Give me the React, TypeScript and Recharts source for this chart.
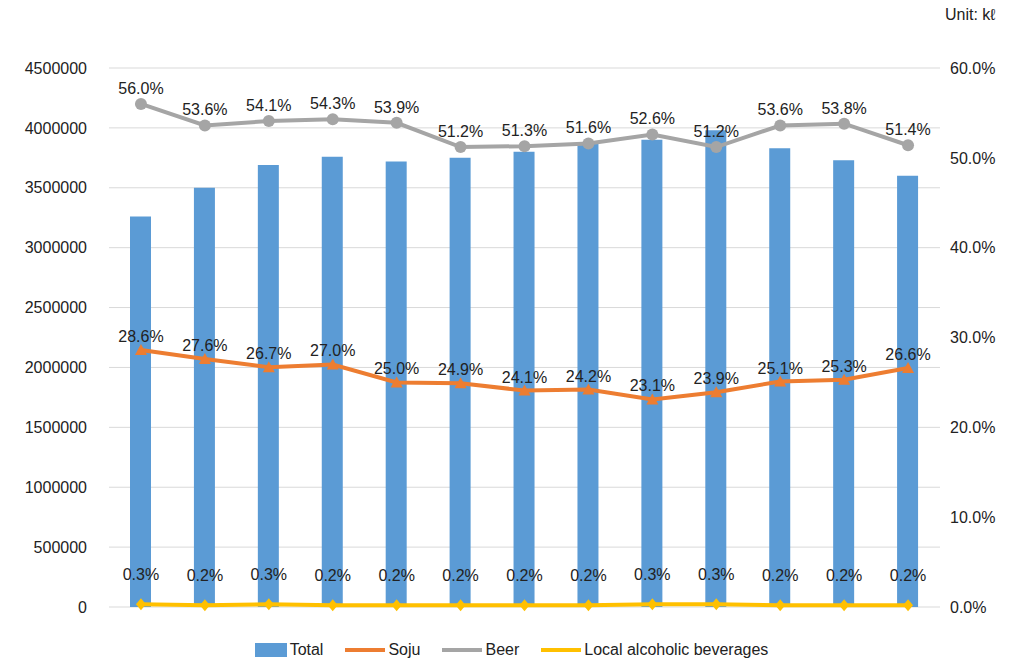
import React from 'react';
import { ComposedChart, Bar, Line, XAxis, YAxis, CartesianGrid, Legend, LabelList } from 'recharts';

const years = ['1', '2', '3', '4', '5', '6', '7', '8', '9', '10', '11', '12', '13'];
const total = [3260000, 3500000, 3690000, 3760000, 3720000, 3750000, 3800000, 3870000, 3900000, 3980000, 3830000, 3730000, 3600000];
const soju = [28.6, 27.6, 26.7, 27.0, 25.0, 24.9, 24.1, 24.2, 23.1, 23.9, 25.1, 25.3, 26.6];
const beer = [56.0, 53.6, 54.1, 54.3, 53.9, 51.2, 51.3, 51.6, 52.6, 51.2, 53.6, 53.8, 51.4];
const local = [0.3, 0.2, 0.3, 0.2, 0.2, 0.2, 0.2, 0.2, 0.3, 0.3, 0.2, 0.2, 0.2];
const leftTicks = [0, 500000, 1000000, 1500000, 2000000, 2500000, 3000000, 3500000, 4000000, 4500000];
const rightTicks = [0, 10, 20, 30, 40, 50, 60];

const data = years.map((y, i) => ({ year: y, total: total[i], soju: soju[i], beer: beer[i], local: local[i] }));

const font = '"Liberation Sans", Arial, sans-serif';
const pct = (v: any) => `${Number(v).toFixed(1)}%`;

const Circle = (p: any) => <circle key={p.index} cx={p.cx} cy={p.cy} r={6} fill="#a5a5a5" />;
const Tri = (p: any) => (
  <path key={p.index} d={`M${p.cx},${p.cy - 6} L${p.cx + 6},${p.cy + 5} L${p.cx - 6},${p.cy + 5} Z`} fill="#ed7d31" />
);
const Diamond = (p: any) => (
  <path key={p.index} d={`M${p.cx},${p.cy - 6} L${p.cx + 5},${p.cy} L${p.cx},${p.cy + 6} L${p.cx - 5},${p.cy} Z`} fill="#ffc000" />
);

const legendItems = [
  { name: 'Total', color: '#5b9bd5', bar: true },
  { name: 'Soju', color: '#ed7d31', bar: false },
  { name: 'Beer', color: '#a5a5a5', bar: false },
  { name: 'Local alcoholic beverages', color: '#ffc000', bar: false },
];

const renderLegend = () => (
  <div style={{ display: 'flex', justifyContent: 'center', gap: 22, fontSize: 16, color: '#222', fontFamily: font }}>
    {legendItems.map((it) => (
      <div key={it.name} style={{ display: 'flex', alignItems: 'center', gap: 3 }}>
        {it.bar ? (
          <span style={{ width: 32, height: 14, background: it.color, display: 'inline-block' }} />
        ) : (
          <span style={{ width: 40, height: 4, background: it.color, display: 'inline-block' }} />
        )}
        <span>{it.name}</span>
      </div>
    ))}
  </div>
);

const App: React.FC = () => (
  <div style={{ position: 'absolute', left: 0, top: 0, width: 1023, height: 663, fontFamily: font, background: '#fff' }}>
    <div style={{ position: 'absolute', left: 945, top: 6, fontSize: 16, color: '#222', zIndex: 2 }}>Unit: kℓ</div>
    <ComposedChart width={1023} height={663} data={data} margin={{ top: 68, right: 0, left: 0, bottom: 38 }} barCategoryGap="32%">
      <CartesianGrid vertical={false} stroke="#d9d9d9" yAxisId="left" />
      <XAxis dataKey="year" hide />
      <YAxis yAxisId="left" domain={[0, 4500000]} ticks={leftTicks} width={109} axisLine={false} tickLine={false}
        tickMargin={16} tick={{ fontSize: 16, fill: '#222' }} interval={0} />
      <YAxis yAxisId="right" orientation="right" domain={[0, 60]} ticks={rightTicks} width={83} axisLine={false} tickLine={false}
        tickMargin={4} tickFormatter={pct} tick={{ fontSize: 16, fill: '#222' }} interval={0} />
      <Legend verticalAlign="bottom" content={renderLegend} wrapperStyle={{ bottom: 4 }} />
      <Bar yAxisId="left" dataKey="total" name="Total" fill="#5b9bd5" barSize={21} isAnimationActive={false} />
      <Line yAxisId="right" dataKey="soju" name="Soju" stroke="#ed7d31" strokeWidth={4} dot={Tri} isAnimationActive={false}>
        <LabelList dataKey="soju" position="top" offset={8} formatter={pct} style={{ fontSize: 16, fill: '#222' }} />
      </Line>
      <Line yAxisId="right" dataKey="beer" name="Beer" stroke="#a5a5a5" strokeWidth={4} dot={Circle} isAnimationActive={false}>
        <LabelList dataKey="beer" position="top" offset={10} formatter={pct} style={{ fontSize: 16, fill: '#222' }} />
      </Line>
      <Line yAxisId="right" dataKey="local" name="Local alcoholic beverages" stroke="#ffc000" strokeWidth={4} dot={Diamond} isAnimationActive={false}>
        <LabelList dataKey="local" position="top" offset={24} formatter={pct} style={{ fontSize: 16, fill: '#222' }} />
      </Line>
    </ComposedChart>
  </div>
);

export default App;
